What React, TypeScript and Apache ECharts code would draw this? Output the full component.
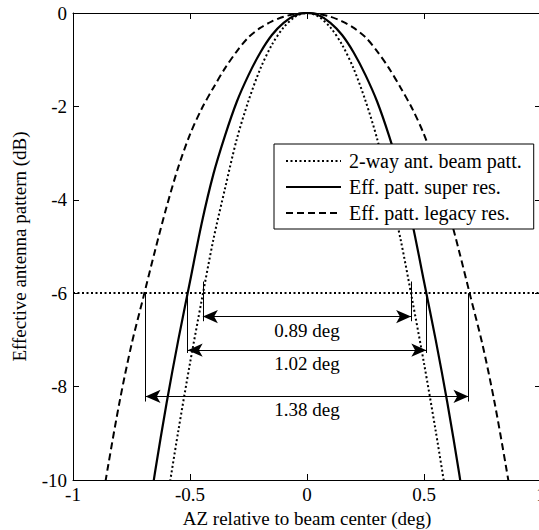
import React, { useEffect, useRef } from "react";
import * as echarts from "echarts";

// Azimuth samples (deg)
const AZ = [
  -0.9, -0.85, -0.8, -0.75, -0.7, -0.65, -0.6, -0.55, -0.5, -0.45, -0.4, -0.35, -0.3, -0.25, -0.2, -0.15, -0.1, -0.05,
  0,
  0.05, 0.1, 0.15, 0.2, 0.25, 0.3, 0.35, 0.4, 0.45, 0.5, 0.55, 0.6, 0.65, 0.7, 0.75, 0.8, 0.85, 0.9,
];

// 2-way antenna beam pattern (dB)
const DB_2WAY = [
  null, null, null, null, null, null, -10.5, -8.95, -7.5, -6.15, -4.85, -3.75, -2.7, -1.88, -1.2, -0.68, -0.31, -0.08,
  0,
  -0.08, -0.31, -0.68, -1.2, -1.88, -2.7, -3.75, -4.85, -6.15, -7.5, -8.95, -10.5, null, null, null, null, null, null,
];

// Effective pattern, super resolution (dB)
const DB_SUPER = [
  null, null, null, null, -11.5, -9.85, -8.35, -7.0, -5.75, -4.5, -3.45, -2.62, -1.9, -1.33, -0.85, -0.47, -0.21, -0.05,
  0,
  -0.05, -0.21, -0.47, -0.85, -1.33, -1.9, -2.62, -3.45, -4.5, -5.75, -7.0, -8.35, -9.85, -11.5, null, null, null, null,
];

// Effective pattern, legacy resolution (dB)
const DB_LEGACY = [
  -11.2, -9.7, -8.3, -7.1, -6.1, -5.1, -4.15, -3.3, -2.6, -2.05, -1.6, -1.18, -0.82, -0.52, -0.32, -0.18, -0.08, -0.02,
  0,
  -0.02, -0.08, -0.18, -0.32, -0.52, -0.82, -1.18, -1.6, -2.05, -2.6, -3.3, -4.15, -5.1, -6.1, -7.1, -8.3, -9.7, -11.2,
];

const SERIES_NAMES = ["2-way ant. beam patt.", "Eff. patt. super res.", "Eff. patt. legacy res."];

// -6 dB threshold and beamwidth annotations
const THRESHOLD_DB = -6;
const WIDTH_LABELS = ["0.89 deg", "1.02 deg", "1.38 deg"];
const HALF_WIDTHS = [0.445, 0.51, 0.69];
const ARROW_DB = [-6.5, -7.22, -8.21];
const EXT_TOP_DB = [-5.75, -6, -6];
const EXT_BOTTOM_DB = [-6.6, -7.28, -8.32];

const FONT = "'Times New Roman', Times, 'Liberation Serif', 'DejaVu Serif', serif";

function pairs(ys: (number | null)[]) {
  return AZ.map((x, i) => [x, ys[i]]);
}

export default function App() {
  const ref = useRef<HTMLDivElement>(null);

  useEffect(() => {
    if (!ref.current) return;
    const chart = echarts.init(ref.current, null, { renderer: "svg" });

    const annotationLines: any[] = [];
    HALF_WIDTHS.forEach((h, i) => {
      annotationLines.push([
        { coord: [-h, EXT_TOP_DB[i]], symbol: "none" },
        { coord: [-h, EXT_BOTTOM_DB[i]], symbol: "none" },
      ]);
      annotationLines.push([
        { coord: [h, EXT_TOP_DB[i]], symbol: "none" },
        { coord: [h, EXT_BOTTOM_DB[i]], symbol: "none" },
      ]);
      annotationLines.push([
        {
          coord: [-h, ARROW_DB[i]],
          symbol: "arrow",
          label: {
            show: true,
            position: "insideMiddleBottom",
            formatter: WIDTH_LABELS[i],
            distance: 4,
            color: "#000",
            fontSize: 19,
            fontFamily: FONT,
          },
        },
        { coord: [h, ARROW_DB[i]], symbol: "arrow" },
      ]);
    });

    const axisCommon = {
      type: "value" as const,
      axisLine: { show: true, onZero: false, lineStyle: { color: "#000", width: 1 } },
      axisTick: { show: true, inside: true, length: 6, lineStyle: { color: "#000", width: 1 } },
      splitLine: { show: false },
    };

    const option: any = {
      animation: false,
      backgroundColor: "#fff",
      textStyle: { fontFamily: FONT },
      grid: { left: 73, top: 13, width: 468, height: 467, containLabel: false, outerBoundsMode: "none" },
      legend: {
        data: SERIES_NAMES,
        orient: "vertical",
        left: 274,
        top: 144,
        padding: [7, 12, 6, 11],
        itemGap: 6,
        itemWidth: 55,
        itemHeight: 14,
        backgroundColor: "#fff",
        borderColor: "#000",
        borderWidth: 1,
        borderRadius: 0,
        itemStyle: { opacity: 0, borderWidth: 0 },
        textStyle: { color: "#000", fontSize: 20, fontFamily: FONT, lineHeight: 20, padding: [0, 0, 0, 3] },
      },
      xAxis: [
        {
          ...axisCommon,
          position: "bottom",
          min: -1,
          max: 1,
          interval: 0.5,
          name: "AZ relative to beam center (deg)",
          nameLocation: "middle",
          nameGap: 28,
          nameTextStyle: { color: "#000", fontSize: 19, fontFamily: FONT },
          axisLabel: { color: "#000", fontSize: 19, fontFamily: FONT, margin: 5 },
        },
        {
          ...axisCommon,
          position: "top",
          min: -1,
          max: 1,
          interval: 0.5,
          axisLabel: { show: false },
        },
      ],
      yAxis: [
        {
          ...axisCommon,
          position: "left",
          min: -10,
          max: 0,
          interval: 2,
          name: "Effective antenna pattern (dB)",
          nameLocation: "middle",
          nameGap: 44,
          nameTextStyle: { color: "#000", fontSize: 19, fontFamily: FONT },
          axisLabel: { color: "#000", fontSize: 19, fontFamily: FONT, margin: 6 },
        },
        {
          ...axisCommon,
          position: "right",
          min: -10,
          max: 0,
          interval: 2,
          axisLabel: { show: false },
        },
      ],
      series: [
        {
          name: SERIES_NAMES[0],
          type: "line",
          data: pairs(DB_2WAY),
          symbol: "none",
          smooth: 0.3,
          clip: true,
          lineStyle: { color: "#000", width: 2, type: [2, 2.5] },
          itemStyle: { color: "#000" },
          markLine: {
            silent: true,
            symbol: "none",
            label: { show: false },
            lineStyle: { color: "#000", width: 2, type: [2, 2.5] },
            data: [[{ coord: [-1, THRESHOLD_DB] }, { coord: [1, THRESHOLD_DB] }]],
          },
        },
        {
          name: SERIES_NAMES[1],
          type: "line",
          data: pairs(DB_SUPER),
          symbol: "none",
          smooth: 0.3,
          clip: true,
          lineStyle: { color: "#000", width: 2.2, type: "solid" },
          itemStyle: { color: "#000" },
          markLine: {
            silent: true,
            symbol: "none",
            symbolSize: [10, 15],
            label: { show: false },
            lineStyle: { color: "#000", width: 1, type: "solid" },
            emphasis: { disabled: true },
            data: annotationLines,
          },
        },
        {
          name: SERIES_NAMES[2],
          type: "line",
          data: pairs(DB_LEGACY),
          symbol: "none",
          smooth: 0.3,
          clip: true,
          lineStyle: { color: "#000", width: 2, type: [7, 4] },
          itemStyle: { color: "#000" },
        },
      ],
    };

    chart.setOption(option);
    return () => chart.dispose();
  }, []);

  return (
    <div
      ref={ref}
      style={{ position: "absolute", left: 0, top: 0, width: 539, height: 530, background: "#fff" }}
    />
  );
}
